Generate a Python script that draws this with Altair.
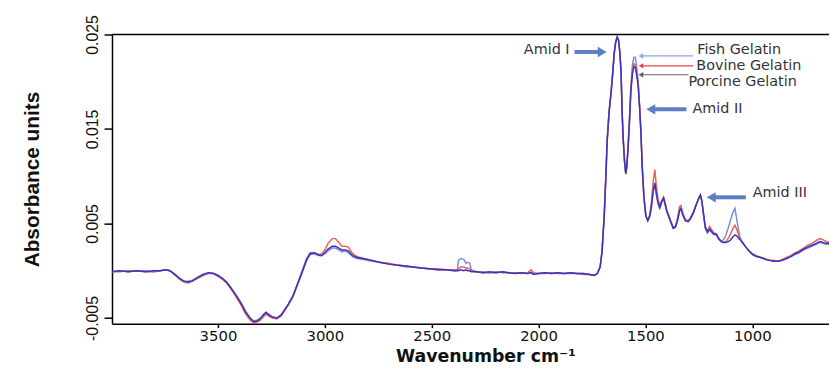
import altair as alt
import pandas as pd

# ---------------- data ----------------
wavenumber = [3996, 3960, 3920, 3880, 3840, 3800, 3770, 3745, 3725, 3700, 3680, 3660, 3640, 3620, 3595, 3570,
              3545, 3520, 3500, 3480, 3460, 3440, 3415, 3393, 3370, 3350, 3333, 3315, 3300, 3285, 3275, 3262,
              3245, 3225, 3205, 3190, 3170, 3148, 3128, 3106, 3085, 3069, 3050, 3030, 3015, 3000, 2985, 2965,
              2950, 2935, 2920, 2905, 2890, 2870, 2850, 2820, 2780, 2745, 2700, 2666, 2620, 2587, 2550, 2513,
              2470, 2430, 2395, 2380, 2375, 2365, 2350, 2340, 2332, 2322, 2315, 2290, 2260, 2230, 2200, 2170,
              2140, 2110, 2080, 2050, 2035, 2025, 2000, 1970, 1940, 1910, 1880, 1850, 1820, 1790, 1760, 1740,
              1725, 1712, 1703, 1693, 1685, 1679, 1670, 1660, 1652, 1646, 1639, 1632, 1626, 1620, 1614, 1609,
              1604, 1598, 1592, 1587, 1581, 1575, 1568, 1561, 1554, 1547, 1540, 1534, 1527, 1521, 1515, 1507,
              1498, 1489, 1480, 1472, 1464, 1456, 1449, 1441, 1433, 1424, 1415, 1407, 1400, 1390, 1382, 1370,
              1360, 1350, 1340, 1334, 1325, 1313, 1300, 1290, 1276, 1262, 1250, 1243, 1236, 1228, 1220, 1210,
              1200, 1192, 1180, 1169, 1158, 1146, 1134, 1123, 1110, 1100, 1090, 1081, 1073, 1065, 1058, 1050,
              1040, 1030, 1015, 998, 980, 960, 940, 920, 900, 880, 860, 840, 820, 800, 780, 760,
              740, 720, 700, 683, 670, 655, 641]

porcine = [-0.0001, 0.0000, -0.0001, 0.0000, -0.0001, 0.0000, 0.0000, 0.0001, 0.0000, -0.0004, -0.0008, -0.0011, -0.0012, -0.0011, -0.0007, -0.0004,
           -0.0002, -0.0003, -0.0005, -0.0008, -0.0012, -0.0018, -0.0026, -0.0034, -0.0044, -0.0050, -0.0054, -0.0053, -0.0050, -0.0046, -0.0044, -0.0047,
           -0.0049, -0.0050, -0.0047, -0.0042, -0.0035, -0.0026, -0.0014, -0.0001, 0.0012, 0.0018, 0.0019, 0.0017, 0.0016, 0.0019, 0.0023, 0.0026,
           0.0026, 0.0024, 0.0022, 0.0022, 0.0021, 0.0016, 0.0014, 0.0013, 0.0011, 0.0009, 0.0007, 0.0006, 0.0005, 0.0004, 0.0003, 0.0002,
           0.0001, 0.0001, 0.0000, 0.0000, 0.0000, 0.0001, 0.0000, 0.0001, 0.0000, 0.0000, -0.0001, -0.0001, -0.0002, -0.0001, -0.0002, -0.0001,
           -0.0002, -0.0003, -0.0002, -0.0003, -0.0002, -0.0004, -0.0003, -0.0002, -0.0003, -0.0002, -0.0003, -0.0002, -0.0003, -0.0003, -0.0004, -0.0005,
           -0.0003, 0.0004, 0.0020, 0.0057, 0.0100, 0.0137, 0.0168, 0.0190, 0.0212, 0.0230, 0.0242, 0.0247, 0.0244, 0.0232, 0.0211, 0.0168,
           0.0140, 0.0117, 0.0103, 0.0110, 0.0130, 0.0156, 0.0190, 0.0208, 0.0216, 0.0215, 0.0206, 0.0196, 0.0172, 0.0146, 0.0110, 0.0078,
           0.0058, 0.0053, 0.0058, 0.0068, 0.0084, 0.0093, 0.0082, 0.0072, 0.0067, 0.0073, 0.0077, 0.0070, 0.0063, 0.0057, 0.0052, 0.0045,
           0.0046, 0.0053, 0.0064, 0.0066, 0.0059, 0.0053, 0.0052, 0.0055, 0.0061, 0.0070, 0.0077, 0.0080, 0.0074, 0.0060, 0.0046, 0.0041,
           0.0044, 0.0042, 0.0039, 0.0039, 0.0034, 0.0031, 0.0030, 0.0030, 0.0031, 0.0033, 0.0036, 0.0038, 0.0037, 0.0035, 0.0033, 0.0031,
           0.0028, 0.0025, 0.0021, 0.0017, 0.0015, 0.0014, 0.0012, 0.0011, 0.0010, 0.0010, 0.0011, 0.0013, 0.0015, 0.0018, 0.0020, 0.0023,
           0.0025, 0.0027, 0.0029, 0.0031, 0.0030, 0.0029, 0.0029]

bovine = [-0.0001, -0.0001, 0.0000, 0.0000, -0.0001, -0.0001, 0.0000, 0.0001, 0.0000, -0.0005, -0.0009, -0.0012, -0.0013, -0.0011, -0.0008, -0.0005,
          -0.0003, -0.0003, -0.0006, -0.0009, -0.0013, -0.0019, -0.0028, -0.0036, -0.0046, -0.0052, -0.0055, -0.0054, -0.0052, -0.0048, -0.0046, -0.0048,
          -0.0050, -0.0051, -0.0048, -0.0043, -0.0036, -0.0027, -0.0014, 0.0000, 0.0013, 0.0019, 0.0019, 0.0017, 0.0018, 0.0022, 0.0029, 0.0034,
          0.0034, 0.0030, 0.0026, 0.0026, 0.0025, 0.0018, 0.0015, 0.0013, 0.0011, 0.0009, 0.0008, 0.0006, 0.0005, 0.0004, 0.0003, 0.0002,
          0.0002, 0.0001, 0.0001, 0.0001, 0.0002, 0.0004, 0.0004, 0.0003, 0.0003, 0.0002, 0.0000, -0.0001, -0.0002, -0.0002, -0.0001, -0.0002,
          -0.0002, -0.0002, -0.0003, -0.0002, 0.0001, -0.0002, -0.0003, -0.0003, -0.0002, -0.0003, -0.0003, -0.0002, -0.0003, -0.0004, -0.0004, -0.0005,
          -0.0003, 0.0004, 0.0020, 0.0057, 0.0100, 0.0137, 0.0168, 0.0190, 0.0212, 0.0230, 0.0242, 0.0247, 0.0244, 0.0232, 0.0211, 0.0168,
          0.0140, 0.0117, 0.0103, 0.0111, 0.0131, 0.0157, 0.0192, 0.0211, 0.0219, 0.0218, 0.0209, 0.0198, 0.0173, 0.0146, 0.0110, 0.0078,
          0.0058, 0.0054, 0.0059, 0.0072, 0.0094, 0.0107, 0.0090, 0.0076, 0.0069, 0.0074, 0.0078, 0.0071, 0.0064, 0.0058, 0.0053, 0.0046,
          0.0047, 0.0055, 0.0068, 0.0069, 0.0061, 0.0054, 0.0053, 0.0056, 0.0062, 0.0070, 0.0077, 0.0080, 0.0074, 0.0060, 0.0047, 0.0042,
          0.0047, 0.0044, 0.0040, 0.0039, 0.0035, 0.0031, 0.0030, 0.0031, 0.0035, 0.0040, 0.0045, 0.0048, 0.0044, 0.0039, 0.0034, 0.0031,
          0.0028, 0.0025, 0.0021, 0.0018, 0.0016, 0.0014, 0.0013, 0.0011, 0.0011, 0.0010, 0.0012, 0.0014, 0.0016, 0.0019, 0.0021, 0.0024,
          0.0027, 0.0029, 0.0032, 0.0034, 0.0033, 0.0031, 0.0030]

fish = [-0.0001, 0.0000, -0.0001, 0.0000, 0.0000, -0.0001, 0.0000, 0.0001, 0.0000, -0.0004, -0.0008, -0.0011, -0.0011, -0.0010, -0.0007, -0.0004,
        -0.0002, -0.0003, -0.0005, -0.0008, -0.0012, -0.0018, -0.0026, -0.0034, -0.0043, -0.0050, -0.0053, -0.0052, -0.0050, -0.0046, -0.0044, -0.0046,
        -0.0049, -0.0050, -0.0047, -0.0042, -0.0035, -0.0026, -0.0015, -0.0002, 0.0011, 0.0017, 0.0018, 0.0016, 0.0016, 0.0018, 0.0021, 0.0024,
        0.0024, 0.0022, 0.0020, 0.0021, 0.0019, 0.0015, 0.0013, 0.0012, 0.0010, 0.0009, 0.0007, 0.0006, 0.0004, 0.0004, 0.0003, 0.0002,
        0.0001, 0.0001, 0.0000, 0.0001, 0.0011, 0.0013, 0.0012, 0.0008, 0.0009, 0.0008, 0.0001, -0.0001, -0.0001, -0.0002, -0.0002, -0.0001,
        -0.0002, -0.0002, -0.0002, -0.0003, -0.0002, -0.0003, -0.0003, -0.0002, -0.0003, -0.0002, -0.0003, -0.0003, -0.0003, -0.0003, -0.0004, -0.0005,
        -0.0003, 0.0004, 0.0021, 0.0058, 0.0101, 0.0138, 0.0169, 0.0191, 0.0213, 0.0231, 0.0243, 0.0248, 0.0244, 0.0232, 0.0210, 0.0167,
        0.0139, 0.0116, 0.0102, 0.0112, 0.0133, 0.0160, 0.0196, 0.0218, 0.0226, 0.0226, 0.0214, 0.0200, 0.0174, 0.0147, 0.0110, 0.0078,
        0.0058, 0.0053, 0.0057, 0.0067, 0.0083, 0.0092, 0.0081, 0.0071, 0.0066, 0.0072, 0.0077, 0.0069, 0.0063, 0.0057, 0.0052, 0.0045,
        0.0046, 0.0053, 0.0064, 0.0065, 0.0059, 0.0053, 0.0052, 0.0055, 0.0061, 0.0070, 0.0077, 0.0080, 0.0074, 0.0059, 0.0045, 0.0040,
        0.0043, 0.0041, 0.0038, 0.0038, 0.0034, 0.0031, 0.0033, 0.0038, 0.0047, 0.0055, 0.0062, 0.0066, 0.0055, 0.0044, 0.0036, 0.0032,
        0.0028, 0.0025, 0.0021, 0.0017, 0.0015, 0.0014, 0.0012, 0.0011, 0.0010, 0.0010, 0.0011, 0.0013, 0.0015, 0.0017, 0.0019, 0.0022,
        0.0024, 0.0026, 0.0028, 0.0030, 0.0029, 0.0028, 0.0028]

series_names = ["Fish Gelatin", "Bovine Gelatin", "Porcine Gelatin"]
series_colors = ["#7b8fd6", "#e2654f", "#3a32c4"]
series_values = [fish, bovine, porcine]

x_ticks = [3500, 3000, 2500, 2000, 1500, 1000]
y_ticks = [-0.005, 0.005, 0.015, 0.025]
x_domain = [641, 3996]
y_domain = [-0.0056, 0.025]

# annotation arrows / labels (data coordinates)
thick_arrow_x = [1832, 1461, 1178]
thick_arrow_x2 = [1721, 1308, 1030]
thick_arrow_y = [0.02315, 0.01708, 0.00777]
thick_head_x = [1702, 1475, 1192]
thick_head_shape = ["triangle-right", "triangle-left", "triangle-left"]

thin_arrow_x = [1521, 1521, 1521]
thin_arrow_x2 = [1276, 1276, 1299]
thin_arrow_y = [0.02273, 0.02168, 0.02074]
thin_arrow_colors = ["#8fa3e0", "#e04848", "#606060"]

label_text = ["Amid I", "Fish Gelatin", "Bovine Gelatin", "Porcine Gelatin", "Amid II", "Amid III"]
label_x = [1855, 1257, 1262, 1299, 1280, 998]
label_y = [0.02335, 0.02338, 0.02168, 0.01995, 0.01708, 0.0082]
label_align = ["right", "left", "left", "left", "left", "left"]

# ---------------- build ----------------
W, H = 724, 292
xs = alt.Scale(domain=x_domain, reverse=True, nice=False, zero=False)
ys = alt.Scale(domain=y_domain, nice=False, zero=False)

layers = []
for name, color, vals in zip(series_names, series_colors, series_values):
    df = pd.DataFrame({"wn": wavenumber, "abs": vals, "series": name})
    layers.append(
        alt.Chart(df).mark_line(color=color, strokeWidth=1.5, clip=True).encode(
            x=alt.X("wn:Q", scale=xs,
                    axis=alt.Axis(values=x_ticks, format="d", title="Wavenumber cm⁻¹",
                                  titleX=377, titleY=42, titleAlign="center", titleBaseline="bottom",
                                  titleFont="DejaVu Sans", titleFontSize=17.5, titleFontWeight="bold",
                                  labelFont="DejaVu Sans", labelFontSize=15, labelPadding=1,
                                  tickSize=4)),
            y=alt.Y("abs:Q", scale=ys,
                    axis=alt.Axis(values=y_ticks, title="Absorbance units",
                                  labelExpr="datum.value < 0 ? '-' + format(-datum.value, '.3f') : format(datum.value, '.3f')",
                                  labelAngle=270, labelAlign="center", labelBaseline="bottom",
                                  labelFont="Liberation Sans", labelFontSize=16, labelPadding=4,
                                  titleAngle=270, titleX=-80, titleY=146, titleAlign="center",
                                  titleBaseline="middle", titleFont="Liberation Sans",
                                  titleFontSize=21, titleFontWeight="bold", tickSize=8)),
        )
    )

frame_top = alt.Chart(pd.DataFrame({"k": [0]})).mark_rule(color="black", strokeWidth=1.5).encode(
    x=alt.value(0), x2=alt.value(W), y=alt.value(0))

thick_df = pd.DataFrame({"x": thick_arrow_x, "x2": thick_arrow_x2, "y": thick_arrow_y})
thick_rules = alt.Chart(thick_df).mark_rule(color="#5b7fc0", strokeWidth=4).encode(
    x=alt.X("x:Q", scale=xs), x2="x2:Q", y=alt.Y("y:Q", scale=ys))
head_df = pd.DataFrame({"x": thick_head_x, "y": thick_arrow_y, "shape": thick_head_shape})
thick_heads = alt.Chart(head_df).mark_point(filled=True, color="#5b7fc0", size=110, opacity=1).encode(
    x=alt.X("x:Q", scale=xs), y=alt.Y("y:Q", scale=ys),
    shape=alt.Shape("shape:N", scale=None, legend=None))

thin_df = pd.DataFrame({"x": thin_arrow_x, "x2": thin_arrow_x2, "y": thin_arrow_y, "c": thin_arrow_colors})
thin_rules = alt.Chart(thin_df).mark_rule(strokeWidth=1.2).encode(
    x=alt.X("x:Q", scale=xs), x2="x2:Q", y=alt.Y("y:Q", scale=ys),
    color=alt.Color("c:N", scale=None, legend=None))
thin_heads = alt.Chart(thin_df).mark_point(filled=True, shape="triangle-left", size=30, opacity=1).encode(
    x=alt.X("x:Q", scale=xs), y=alt.Y("y:Q", scale=ys),
    color=alt.Color("c:N", scale=None, legend=None))

lab_df = pd.DataFrame({"x": label_x, "y": label_y, "t": label_text, "a": label_align})
labels_left = alt.Chart(lab_df[lab_df.a == "left"]).mark_text(
    align="left", baseline="middle", font="DejaVu Sans", fontSize=14.5, color="#333333").encode(
    x=alt.X("x:Q", scale=xs), y=alt.Y("y:Q", scale=ys), text="t:N")
labels_right = alt.Chart(lab_df[lab_df.a == "right"]).mark_text(
    align="right", baseline="middle", font="DejaVu Sans", fontSize=14.5, color="#333333").encode(
    x=alt.X("x:Q", scale=xs), y=alt.Y("y:Q", scale=ys), text="t:N")

chart = alt.layer(
    *layers, frame_top, thick_rules, thick_heads, thin_rules, thin_heads, labels_left, labels_right
).properties(
    width=W, height=H,
    autosize=alt.AutoSizeParams(type="none"),
    padding={"left": 105, "top": 25, "right": 0, "bottom": 42},
).configure_view(stroke=None).configure_axis(
    grid=False, domainColor="black", domainWidth=1.5, tickColor="black", tickWidth=1.5,
    labelColor="#111111", titleColor="#111111",
)

chart.save("out.html", embed_options={"renderer": "svg", "actions": False})
